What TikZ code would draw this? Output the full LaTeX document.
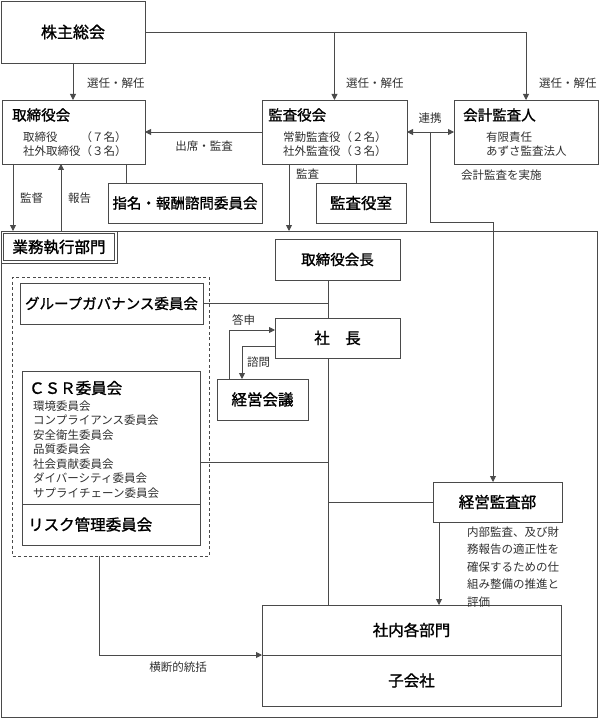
\documentclass[tikz,border=0pt]{standalone}
\usepackage{fontspec}
\setmainfont{Noto Sans CJK JP}
\newfontfamily\tfont{Noto Sans CJK JP}[FakeBold=1.3]
\usetikzlibrary{arrows.meta,calc}
\definecolor{lc}{HTML}{4A4A4A}
\definecolor{tc}{HTML}{303030}
\begin{document}
\begin{tikzpicture}[x=1pt,y=-1pt,
  box/.style={draw=lc, line width=0.9pt, inner sep=0pt, outer sep=0pt, anchor=north west},
  bigt/.style={font=\fontsize{15.5}{18}\selectfont\tfont, text=black},
  midt/.style={font=\fontsize{14.5}{17}\selectfont\tfont, text=black},
  ttl/.style={midt, inner sep=0pt, anchor=west},
  sm/.style={font=\fontsize{11.5}{14.5}\selectfont, text=tc, inner sep=0pt, anchor=west, align=left},
  conn/.style={draw=lc, line width=0.9pt},
  arr/.style={conn, -{Triangle[length=6pt,width=6pt]}},
  darr/.style={conn, {Triangle[length=6pt,width=6pt]}-{Triangle[length=6pt,width=6pt]}}
]
\useasboundingbox (0,0) rectangle (599,719);

% top level boxes
\node[box, minimum width=144, minimum height=62, font=\fontsize{16}{18}\selectfont\tfont] (kabu) at (1,1) {株主総会};
\node[box, minimum width=143, minimum height=64] (tori) at (2,100) {};
\node[ttl] (toriT) at (12,115) {取締役会};
\node[sm] (toriS) at (23,144) {取締役　　（７名）\\社外取締役（３名）};
\node[box, minimum width=145, minimum height=64] (kansa) at (262,100) {};
\node[ttl] (kansaT) at (268,115) {監査役会};
\node[sm] (kansaS) at (283,144) {常勤監査役（２名）\\社外監査役（３名）};
\node[box, minimum width=144, minimum height=64] (kaikei) at (454,100) {};
\node[ttl] (kaikeiT) at (463,115) {会計監査人};
\node[sm] (kaikeiS) at (486,144) {有限責任\\あずさ監査法人};
\node[box, minimum width=154, minimum height=40, midt] (shimei) at (108,183) {指名・報酬諮問委員会};
\node[box, minimum width=90, minimum height=40, bigt] (kansashitsu) at (316,183) {監査役室};

% execution frame
\node[box, minimum width=596, minimum height=486] (frame) at (1,231) {};
\node[box, minimum width=116, minimum height=32] (lblo) at (1,231) {};
\node[box, minimum width=111, minimum height=27, bigt] (lbl) at (3.5,233.5) {業務執行部門};

\node[box, minimum width=125, minimum height=41, midt] (kaicho) at (275,239) {取締役会長};
\node[box, minimum width=125, minimum height=40, bigt] (shacho) at (275,318) {社　長};
\node[box, minimum width=91, minimum height=41, bigt] (keiei) at (217,379) {経営会議};

\node[box, dashed, dash pattern=on 3pt off 2.5pt, line width=0.8pt, minimum width=196.5, minimum height=279] (dashed) at (12.5,277) {};
\node[box, minimum width=183, minimum height=41, midt] (gg) at (20,283) {グループガバナンス委員会};
\node[box, minimum width=178, minimum height=133] (csr) at (22,371) {};
\node[ttl, bigt] (csrT) at (29,388) {ＣＳＲ委員会};
\node[sm] (csrS) at (33,449.5) {環境委員会\\コンプライアンス委員会\\安全衛生委員会\\品質委員会\\社会貢献委員会\\ダイバーシティ委員会\\サプライチェーン委員会};
\node[box, minimum width=178, minimum height=41] (risk) at (22,504) {};
\node[ttl, bigt] (riskT) at (28,524.5) {リスク管理委員会};

\node[box, minimum width=129, minimum height=40, bigt] (keieikansa) at (433,482) {経営監査部};
\node[box, minimum width=299, minimum height=50, bigt] (shanai) at (262,605) {社内各部門};
\node[box, minimum width=299, minimum height=51, bigt] (kogaisha) at (262,655) {子会社};

% helper coordinates
\coordinate (xk) at (13,0);
\coordinate (xh) at (61,0);
\coordinate (xs) at (126,0);
\coordinate (xa) at (289,0);
\coordinate (xr) at (356,0);
\coordinate (spine) at (328,0);
\coordinate (xo) at (99,0);
\coordinate (xe) at (439,0);
\coordinate (ycsr) at (0,462);
\coordinate (xt) at (229,0);
\coordinate (yt) at (0,330);
\coordinate (xq) at (242,0);
\coordinate (yq) at (0,346);
\coordinate (rk) at (430,132);
\coordinate (kaTurn) at (493,222);

% connectors
\draw[arr] (kabu.south) -- (kabu.south |- tori.north);
\draw[arr] (kabu.east) -| (kaikei.north);
\draw[arr] (kansa.north |- kabu.east) -- (kansa.north);
\draw[arr] (kansa) -- (tori);
\draw[darr] (kansa) -- (kaikei);
\draw[arr] (rk) |- (kaTurn) -- (kaTurn |- keieikansa.north);
\draw[arr] (xk |- tori.south) -- (xk |- frame.north);
\draw[arr] (xh |- frame.north) -- (xh |- tori.south);
\draw[conn] (xs |- tori.south) -- (xs |- shimei.north);
\draw[arr] (xa |- kansa.south) -- (xa |- frame.north);
\draw[conn] (xr |- kansa.south) -- (xr |- kansashitsu.north);
\draw[conn] (spine |- kaicho.south) -- (spine |- shacho.north);
\draw[conn] (spine |- shacho.south) -- (spine |- shanai.north);
\draw[conn] (gg.east) -- (spine |- gg.east);
\draw[conn] (csr.east |- ycsr) -- (spine |- ycsr);
\draw[conn] (keieikansa.west) -- (spine |- keieikansa.west);
\draw[arr] (xe |- keieikansa.south) -- (xe |- shanai.north);
\draw[arr] (xo |- dashed.south) |- (kogaisha.north west);
\draw[arr] (xt |- keiei.north) |- (shacho.west |- yt);
\draw[arr] (shacho.west |- yq) -| (xq |- keiei.north);

% labels
\node[sm] (l1) at (87,83) {選任・解任};
\node[sm] (l2) at (346,83) {選任・解任};
\node[sm] (l3) at (539,83) {選任・解任};
\node[sm, anchor=center] (l4) at (204,146) {出席・監査};
\node[sm, anchor=center] (l5) at (430,118) {連携};
\node[sm] (l6) at (461,175) {会計監査を実施};
\node[sm] (l7) at (20,198) {監督};
\node[sm] (l8) at (68,198) {報告};
\node[sm] (l9) at (296,174) {監査};
\node[sm] (l10) at (232,320) {答申};
\node[sm] (l11) at (247,362) {諮問};
\node[sm, anchor=center] (l12) at (178,667) {横断的統括};
\node[sm, font=\fontsize{11.5}{17.5}\selectfont] (l13) at (467,567) {内部監査、及び財\\務報告の適正性を\\確保するための仕\\組み整備の推進と\\評価};
\end{tikzpicture}
\end{document}
